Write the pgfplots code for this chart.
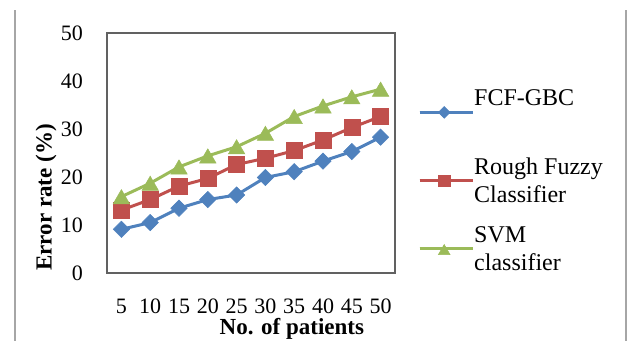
\documentclass[border=0pt]{standalone}
\usepackage{fontspec}
\setmainfont{Liberation Serif}
\usepackage{pgfplots}
\pgfplotsset{compat=1.18}
\definecolor{cblue}{HTML}{4F81BD}
\definecolor{cred}{HTML}{C0504D}
\definecolor{cgreen}{HTML}{9BBB59}
\begin{document}
\begin{tikzpicture}
\useasboundingbox (0,0) rectangle (632bp,341bp);
\draw[black!35, line width=1.3bp] (15bp,0) -- (15bp,331bp);
\draw[black!35, line width=1.3bp] (626bp,0) -- (626bp,331bp);
\begin{axis}[
  at={(107bp,68bp)}, anchor=south west,
  scale only axis, width=288bp, height=240bp,
  xmin=-0.5, xmax=9.5, ymin=0, ymax=50,
  xtick={0,...,9}, xticklabels={5,10,15,20,25,30,35,40,45,50},
  ytick={0,10,...,50},
  major tick length=0pt,
  axis line style={black!62, line width=1.1bp},
  /pgf/number format/assume math mode=true,
  tick label style={font=\fontsize{22bp}{26bp}\selectfont, inner sep=0pt},
  yticklabel style={anchor=east, xshift=-24bp},
  xticklabel style={anchor=north, yshift=-26bp},
  xlabel={No. of patients},
  ylabel={Error rate (\%)},
  label style={font=\bfseries\fontsize{23bp}{27bp}\selectfont, inner sep=0pt},
  xlabel style={at={(axis description cs:0.642,-0.19)}, anchor=north},
  ylabel style={at={(axis description cs:-0.2118,0.315)}, anchor=center},
  clip=false,
  legend style={at={(axis description cs:1.0799,0.7646)}, anchor=north west,
    draw=none, fill=none, inner sep=0pt, row sep=22.5bp,
    nodes={align=left, inner sep=0pt, font=\fontsize{24bp}{28bp}\selectfont}},
  legend cell align=left,
  legend image code/.code={\path (0bp,0bp) -- (53bp,0bp);
    \draw[mark repeat=2, mark phase=2, every mark/.append style={scale=0.72}] plot coordinates {(0bp,0bp) (24.5bp,0bp) (49bp,0bp)};},
  every axis plot/.append style={line width=3bp},
]
\addplot[cblue, mark=square*, mark size=5.8bp, mark options={rotate=45, line width=0.5bp, fill=cblue}]
  coordinates {(0,9.1) (1,10.5) (2,13.5) (3,15.3) (4,16.25) (5,19.9) (6,21.1) (7,23.3) (8,25.3) (9,28.3)};
\addlegendentry{FCF-GBC\\{}}
\addplot[cred, mark=square*, mark size=8bp, mark options={line width=0.5bp, fill=cred}]
  coordinates {(0,13.1) (1,15.3) (2,18.1) (3,19.7) (4,22.6) (5,23.9) (6,25.5) (7,27.7) (8,30.3) (9,32.6)};
\addlegendentry{Rough Fuzzy\\Classifier}
\addplot[cgreen, mark=triangle*, mark size=9.5bp, mark options={yshift=-2.4bp, line width=0.5bp, fill=cgreen}]
  coordinates {(0,15.9) (1,18.7) (2,22.1) (3,24.4) (4,26.3) (5,29.1) (6,32.6) (7,34.8) (8,36.7) (9,38.3)};
\addlegendentry{SVM\\classifier}
\end{axis}
\end{tikzpicture}
\end{document}
